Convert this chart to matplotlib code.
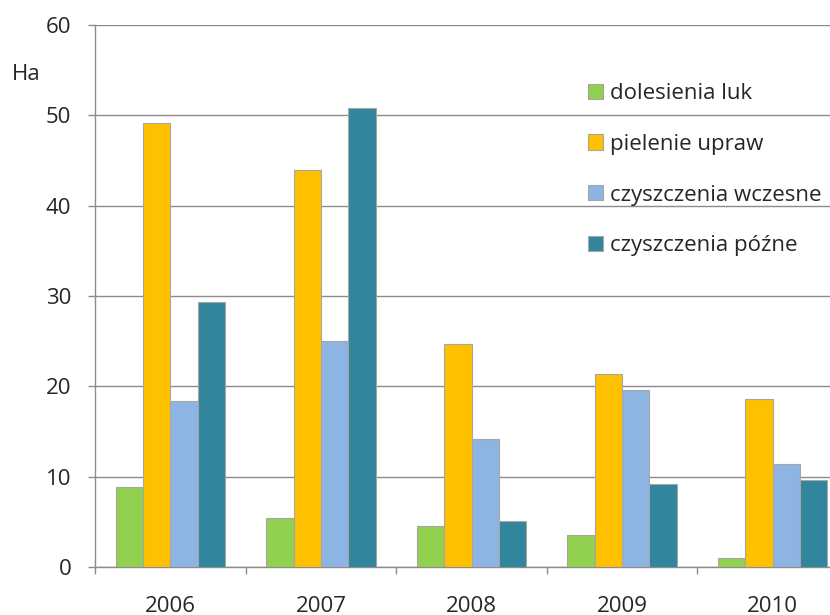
import matplotlib
matplotlib.use("Agg")
import matplotlib.pyplot as plt
import numpy as np
from matplotlib.patches import Patch

years = ["2006", "2007", "2008", "2009", "2010"]
series_names = ["dolesienia luk", "pielenie upraw", "czyszczenia wczesne", "czyszczenia późne"]
dolesienia = [8.9, 5.4, 4.5, 3.5, 1.0]
pielenie = [49.2, 43.9, 24.7, 21.4, 18.6]
wczesne = [18.4, 25.0, 14.2, 19.6, 11.4]
pozne = [29.3, 50.8, 5.1, 9.2, 9.6]
colors = ["#92D050", "#FFC000", "#8EB4E3", "#31859C"]
yticks = [0, 10, 20, 30, 40, 50, 60]

plt.rcParams['font.family'] = ['Open Sans', 'DejaVu Sans']

W, H = 830, 615
fig = plt.figure(figsize=(W/100, H/100), dpi=100)
left_px, right_px = 95, 848
bottom_px, top_px = 567, 25
ax = fig.add_axes([left_px/W, 1 - bottom_px/H, (right_px-left_px)/W, (bottom_px-top_px)/H])

x = np.arange(len(years))
bw = 1/5.5
data = [dolesienia, pielenie, wczesne, pozne]
for i, (vals, c) in enumerate(zip(data, colors)):
    ax.bar(x + (i - 1.5)*bw, vals, width=bw, color=c, edgecolor="#A6A6A6", linewidth=0.8, zorder=3)

ax.set_xlim(-0.5, len(years) - 0.5)
ax.set_ylim(0, 60)
ax.set_yticks(yticks)
ax.set_yticklabels([str(v) for v in yticks], fontsize=16, color="#262626")
ax.yaxis.grid(True, color="#8C8C8C", linewidth=1.0, zorder=0)
ax.set_axisbelow(True)

ax.set_xticks(np.arange(-0.5, len(years), 1.0))
ax.set_xticklabels([])
ax.set_xticks(x, minor=True)
ax.set_xticklabels(years, minor=True, fontsize=16, color="#262626")
ax.tick_params(axis='x', which='major', length=5, color="#8C8C8C", width=1)
ax.tick_params(axis='x', which='minor', length=0, pad=21)
ax.tick_params(axis='y', length=5, color="#8C8C8C", width=1, pad=12)

for s in ["top", "right"]:
    ax.spines[s].set_visible(False)
for s in ["left", "bottom"]:
    ax.spines[s].set_color("#8C8C8C")
    ax.spines[s].set_linewidth(1.0)

fig.text(12/W, 1 - 75/H, "Ha", fontsize=16, color="#262626", va="center", ha="left")

handles = [Patch(facecolor=c, edgecolor="#A6A6A6", linewidth=0.8) for c in colors]
leg = fig.legend(handles, series_names, loc="upper left",
                 bbox_to_anchor=(588/W, 1 - 83/H), frameon=False, borderpad=0,
                 borderaxespad=0,
                 fontsize=16, handlelength=0.68, handleheight=0.68,
                 handletextpad=0.32, labelspacing=1.34, labelcolor="#262626")

fig.savefig("out.png", dpi=100)
